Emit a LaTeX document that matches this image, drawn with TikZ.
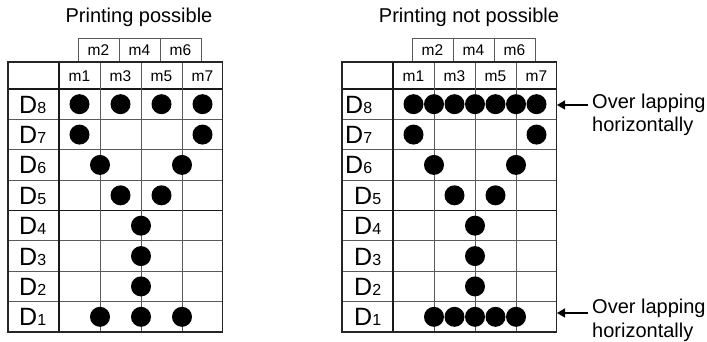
\documentclass[tikz,border=0pt]{standalone}
\usepackage{fontspec}
\setmainfont{Liberation Sans}
\usetikzlibrary{arrows.meta}
\begin{document}
\begin{tikzpicture}[x=1pt,y=-1pt,
  dot/.style={circle,fill=black,inner sep=0pt,minimum size=20pt},
  outerline/.style={draw=black!85,line width=1.1pt},
  gridline/.style={draw=black!65,line width=0.9pt},
  strongline/.style={draw=black!90,line width=1.2pt},
  mlab/.style={font=\fontsize{15.5}{16}\selectfont,inner sep=0pt,anchor=base},
  dlab/.style={font=\fontsize{25}{26}\selectfont,inner sep=0pt,anchor=base west},
  title/.style={font=\fontsize{20}{22}\selectfont,inner sep=0pt,anchor=base},
  note/.style={font=\fontsize{20}{24}\selectfont,inner sep=0pt,anchor=base west,align=left},
  arr/.style={draw=black,line width=1.3pt,-{Triangle[length=8pt,width=9pt]}}]
\useasboundingbox (0,0) rectangle (707,342);

% ---------- titles ----------
\node[title] (t1) at (139,23) {Printing possible};
\node[title] (t2) at (469,23) {Printing not possible};

% ---------- two tables ----------
\foreach \pre/\sh in {L-/0,R-/334}{
\begin{scope}[shift={(\sh,0)},name prefix=\pre]
  % header boxes m2 m4 m6
  \draw[gridline] (78,38) rectangle (201,62);
  \draw[gridline] (119,38) -- (119,62);
  \draw[gridline] (160,38) -- (160,62);
  \node[mlab] (m2) at (98.5,56) {m2};
  \node[mlab] (m4) at (139.5,56) {m4};
  \node[mlab] (m6) at (180.5,56) {m6};
  % row lines
  \foreach \k in {1,...,7}
    \draw[gridline] (8,{89+30.375*\k}) -- (222.5,{89+30.375*\k});
  \draw[strongline] (8,210.5) -- (222.5,210.5);
  \draw[strongline] (8,89) -- (222.5,89);
  % column lines
  \foreach \xx in {100,141,182}
    \draw[gridline] (\xx,62) -- (\xx,332);
  \draw[strongline] (59,62) -- (59,332);
  % outer frame
  \draw[outerline] (8,62) rectangle (222.5,332);
  % m labels
  \node[mlab] (m1) at (79.5,82) {m1};
  \node[mlab] (m3) at (120.5,82) {m3};
  \node[mlab] (m5) at (161.5,82) {m5};
  \node[mlab] (m7) at (202.5,82) {m7};
\end{scope}
}

% D labels, left table
\foreach \r in {8,...,1}
  \node[dlab] (L-D\r) at (19,{89+30.375*(8-\r+0.5)+9}) {D{\fontsize{16}{16}\selectfont\r}};
% D labels, right table
\foreach \r/\xx in {8/345,7/345,6/345,5/354,4/354,3/354,2/354,1/354}
  \node[dlab] (R-D\r) at (\xx,{89+30.375*(8-\r+0.5)+9}) {D{\fontsize{16}{16}\selectfont\r}};

% dots, left table: "Printing possible"
\foreach \r/\lst in {8/{1,3,5,7},7/{1,7},6/{2,6},5/{3,5},4/{4},3/{4},2/{4},1/{2,4,6}}
  \foreach \i in \lst
    \node[dot] (L-d\r-\i) at ({59+20.5*\i},{89+30.375*(8-\r+0.5)}) {};
% dots, right table: "Printing not possible"
\foreach \r/\lst in {8/{1,2,3,4,5,6,7},7/{1,7},6/{2,6},5/{3,5},4/{4},3/{4},2/{4},1/{2,3,4,5,6}}
  \foreach \i in \lst
    \node[dot] (R-d\r-\i) at ({393+20.5*\i},{89+30.375*(8-\r+0.5)}) {};

% notes with arrows (base anchor = baseline of the last line)
\node[note] (n1) at (592,132) {Over lapping\\horizontally};
\node[note] (n2) at (592,337) {Over lapping\\horizontally};
\coordinate (a1) at (588,105);
\coordinate (b1) at (557,105);
\coordinate (a2) at (588,313);
\coordinate (b2) at (557,313);
\draw[arr] (a1) -- (b1);
\draw[arr] (a2) -- (b2);
\end{tikzpicture}
\end{document}
